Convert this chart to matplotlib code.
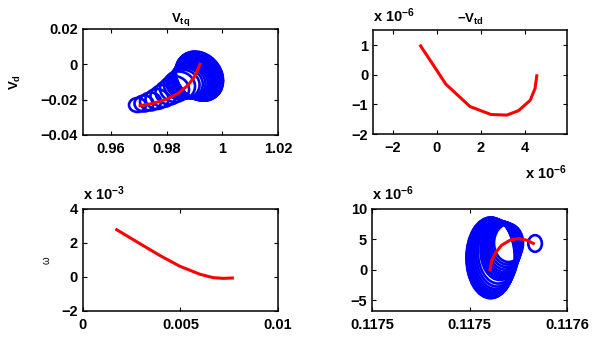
import numpy as np
import matplotlib
matplotlib.use('Agg')
import matplotlib.pyplot as plt
from matplotlib.patches import Ellipse

plt.rcParams['font.family'] = ['Liberation Sans', 'DejaVu Sans']
plt.rcParams['font.size'] = 10.5
plt.rcParams['font.weight'] = 'bold'
plt.rcParams['mathtext.fontset'] = 'custom'
plt.rcParams['mathtext.rm'] = 'Liberation Sans'
plt.rcParams['mathtext.bf'] = 'Liberation Sans:bold'
plt.rcParams['mathtext.it'] = 'Liberation Sans:italic'
plt.rcParams['axes.unicode_minus'] = True

# ---- data ----
# top left: V_tq vs V_d, loops (center x, center y, width, height, tilt) + mean path
vq_loop_x = [0.96957, 0.97190, 0.97423, 0.97657, 0.97872, 0.98087, 0.98285, 0.98464,
             0.98590, 0.98679, 0.98751, 0.98812, 0.98866, 0.98913, 0.98956, 0.98992, 0.99024, 0.99053,
             0.99078, 0.99099, 0.99117, 0.99132, 0.99146, 0.99157, 0.99164, 0.99171, 0.99175, 0.99178]
vq_loop_y = [-0.02302, -0.02217, -0.02104, -0.01962, -0.01792, -0.01594, -0.01396, -0.01198,
             -0.01113, -0.01057, -0.01011, -0.00972, -0.00932, -0.00898, -0.00870, -0.00842, -0.00819, -0.00796,
             -0.00774, -0.00757, -0.00740, -0.00723, -0.00711, -0.00700, -0.00689, -0.00677, -0.00672, -0.00666]
vq_loop_w = [0.00610, 0.00682, 0.00754, 0.00826, 0.00898, 0.00969, 0.01041, 0.01113,
             0.01185, 0.01235, 0.01278, 0.01321, 0.01364, 0.01400, 0.01436, 0.01465, 0.01493, 0.01522,
             0.01544, 0.01565, 0.01587, 0.01601, 0.01615, 0.01630, 0.01637, 0.01644, 0.01651, 0.01658]
vq_loop_h = [0.00792, 0.00906, 0.01019, 0.01132, 0.01245, 0.01358, 0.01472, 0.01585,
             0.01642, 0.01732, 0.01811, 0.01902, 0.01992, 0.02072, 0.02151, 0.02230, 0.02298, 0.02366,
             0.02434, 0.02491, 0.02547, 0.02604, 0.02649, 0.02694, 0.02728, 0.02762, 0.02785, 0.02808]
vq_loop_tilt = [0, 0, 0, 1, 2, 3, 4, 5,
                6, 7, 8, 9, 10, 10, 10, 10, 10, 10,
                10, 10, 10, 10, 10, 10, 10, 10, 10, 10]
vq_mean_x = [0.9705, 0.9752, 0.9800, 0.9842, 0.9878, 0.9902, 0.9914, 0.9920]
vq_mean_y = [-0.0234, -0.0221, -0.0198, -0.0164, -0.0117, -0.0066, -0.0022, 0.0000]

# top right: -V_td (both axes x 1e-6)
vtd_x = [-0.74, -0.17, 0.40, 1.50, 2.45, 3.17, 3.70, 4.23, 4.45, 4.53]
vtd_y = [0.98, 0.34, -0.31, -1.07, -1.34, -1.36, -1.21, -0.86, -0.46, -0.03]

# bottom left: omega (y x 1e-3)
w_x = [0.00173, 0.00292, 0.00395, 0.00497, 0.00600, 0.00668, 0.00719, 0.00766]
w_y = [2.78, 1.96, 1.26, 0.63, 0.16, -0.04, -0.08, -0.06]

# bottom right: loops (y x 1e-6) + mean path
br_loop_x = [0.1175336, 0.1175200, 0.1175193, 0.1175187, 0.1175181, 0.1175176, 0.1175170, 0.1175165,
             0.1175160, 0.1175155, 0.1175147, 0.1175141, 0.1175135, 0.1175129, 0.1175124, 0.1175119,
             0.1175116, 0.1175113, 0.1175111, 0.1175109, 0.1175108]
br_loop_y = [4.32, 4.40, 4.24, 4.07, 3.90, 3.74, 3.60, 3.45, 3.30, 3.16, 2.91, 2.71,
             2.54, 2.42, 2.29, 2.20, 2.11, 2.05, 2.00, 1.97, 1.95]
br_loop_w = [6.97e-6, 1.487e-5, 1.564e-5, 1.641e-5, 1.705e-5, 1.769e-5, 1.820e-5, 1.872e-5,
             1.923e-5, 1.974e-5, 2.077e-5, 2.154e-5, 2.231e-5, 2.292e-5, 2.344e-5, 2.385e-5,
             2.421e-5, 2.446e-5, 2.467e-5, 2.477e-5, 2.482e-5]
br_loop_h = [2.74, 6.26, 6.75, 7.25, 7.75, 8.24, 8.61, 8.98, 9.35, 9.72, 10.38, 10.96,
             11.46, 11.87, 12.21, 12.51, 12.74, 12.94, 13.10, 13.22, 13.30]
br_mean_x = [0.1175105, 0.1175114, 0.1175136, 0.1175165, 0.1175208, 0.1175250, 0.1175293, 0.1175327]
br_mean_y = [0.0, 1.57, 2.94, 4.04, 4.87, 5.15, 4.87, 4.32]

RED = '#ff0000'
BLUE = '#0000ff'

fig = plt.figure(figsize=(6.07, 3.39), dpi=100)
ax1 = fig.add_axes([0.1367, 0.6018, 0.3213, 0.3127])
ax2 = fig.add_axes([0.6145, 0.6047, 0.3196, 0.3068])
ax3 = fig.add_axes([0.1367, 0.0826, 0.3213, 0.3009])
ax4 = fig.add_axes([0.6129, 0.0826, 0.3213, 0.3009])

for ax in (ax1, ax2, ax3, ax4):
    ax.tick_params(direction='in', length=3, width=0.8, top=True, right=True, labelsize=10.5)
    ax.tick_params(axis='x', pad=5)
    ax.tick_params(axis='y', pad=3.5)
    for s in ax.spines.values():
        s.set_linewidth(1.1)


def lab(vals):
    return [('%g' % v).replace('-', '\u2212') for v in vals]


# top left
for cx, cy, w, h, t in zip(vq_loop_x, vq_loop_y, vq_loop_w, vq_loop_h, vq_loop_tilt):
    ax1.add_patch(Ellipse((cx, cy), w, h, angle=t, fill=False, ec=BLUE, lw=1.9))
ax1.plot(vq_mean_x, vq_mean_y, color=RED, lw=2.2)
ax1.set_xlim(0.95, 1.02)
ax1.set_ylim(-0.04, 0.02)
ax1.set_xticks([0.96, 0.98, 1.0, 1.02])
ax1.set_xticklabels(lab([0.96, 0.98, 1, 1.02]))
ax1.set_yticks([-0.04, -0.02, 0, 0.02])
ax1.set_yticklabels(lab([-0.04, -0.02, 0, 0.02]))
ax1.set_title(r'$\mathbf{V_{tq}}$', fontsize=9.5, pad=5)
ax1.set_ylabel(r'$\mathbf{V_d}$', fontsize=9.5)
ax1.yaxis.set_label_coords(-0.31, 0.5)

# top right
ax2.plot(vtd_x, vtd_y, color=RED, lw=2.2)
ax2.set_xlim(-2.9, 5.9)
ax2.set_ylim(-2, 1.52)
ax2.set_xticks([-2, 0, 2, 4])
ax2.set_xticklabels(lab([-2, 0, 2, 4]))
ax2.set_yticks([-2, -1, 0, 1])
ax2.set_yticklabels(lab([-2, -1, 0, 1]))
ax2.set_title(r'$\mathbf{-V_{td}}$', fontsize=9.5, pad=5)
ax2.text(0, 1.05, r'$\mathbf{x\ 10^{-6}}$', transform=ax2.transAxes, ha='left', va='bottom')
ax2.text(1.0, -0.43, r'$\mathbf{x\ 10^{-6}}$', transform=ax2.transAxes, ha='right', va='baseline')

# bottom left
ax3.plot(w_x, w_y, color=RED, lw=2.2)
ax3.set_xlim(0, 0.01)
ax3.set_ylim(-2, 4)
ax3.set_xticks([0, 0.005, 0.01])
ax3.set_xticklabels(lab([0, 0.005, 0.01]))
ax3.set_yticks([-2, 0, 2, 4])
ax3.set_yticklabels(lab([-2, 0, 2, 4]))
ax3.set_ylabel('\u03c9', fontsize=7, fontweight='normal')
ax3.yaxis.set_label_coords(-0.16, 0.5)
ax3.text(0, 1.06, r'$\mathbf{x\ 10^{-3}}$', transform=ax3.transAxes, ha='left', va='bottom')

# bottom right
for cx, cy, w, h in zip(br_loop_x, br_loop_y, br_loop_w, br_loop_h):
    ax4.add_patch(Ellipse((cx, cy), w, h, fill=False, ec=BLUE, lw=1.9))
ax4.plot(br_mean_x, br_mean_y, color=RED, lw=2.2)
ax4.set_xlim(0.11745, 0.11755)
ax4.set_ylim(-6.8, 10)
ax4.set_xticks([0.11745, 0.1175, 0.11755])
ax4.set_xticklabels(['0.1175', '0.1175', '0.1176'])
ax4.set_yticks([-5, 0, 5, 10])
ax4.set_yticklabels(lab([-5, 0, 5, 10]))
ax4.text(0, 1.06, r'$\mathbf{x\ 10^{-6}}$', transform=ax4.transAxes, ha='left', va='bottom')

fig.savefig('out.png', dpi=100)
